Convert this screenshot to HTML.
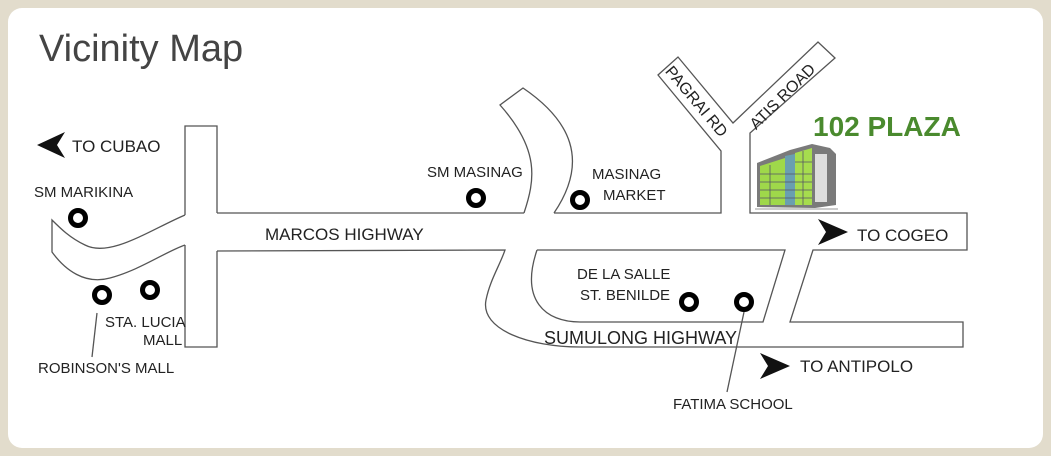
<!DOCTYPE html>
<html><head><meta charset="utf-8"><style>
html,body{margin:0;padding:0;background:#e2dccc;width:1051px;height:456px;overflow:hidden}
.card{position:absolute;left:8px;top:8px;width:1035px;height:440px;background:#fff;border-radius:14px}
svg{position:absolute;left:0;top:0}
text{font-family:"Liberation Sans",sans-serif;fill:#222}
</style></head><body>
<div class="card"></div>
<svg width="1051" height="456" viewBox="0 0 1051 456">
<text x="39" y="61" style="font-size:38px;fill:#444">Vicinity Map</text>
<g fill="none" stroke="#555" stroke-width="1.3">
<path d="M185 215 L185 126 L217 126 L217 213"/>
<path d="M185 245 L185 347 L217 347 L217 251"/>
<path d="M185 215 C150 230 110 258 85 245 C70 238 60 228 52 220 L52 252 C65 270 85 285 110 278 C140 270 165 252 185 245"/>
<path d="M217 213 L524 213"/>
<path d="M554 213 L721 213 L721 151 L658 75 L678 57 L733 123 L818 42 L835 58 L750 133 L750 213 L967 213 L967 250 L813 250 L790 322 L963 322 L963 347 L580 347 C530 347 480 330 486 300 C490 280 500 265 505 250 L217 251"/>
<path d="M524 213 C535 180 540 150 500 105 L523 88 C570 120 590 160 554 213"/>
<path d="M537 250 L785 250 L763 322 L580 322 C545 322 520 300 537 250"/>
<path d="M97 313 L92 357"/>
<path d="M744 312 L727 392"/>
</g>
<g fill="none" stroke="#000" stroke-width="5">
<circle cx="78" cy="218" r="7.5"/><circle cx="476" cy="198" r="7.5"/><circle cx="580" cy="200" r="7.5"/>
<circle cx="102" cy="295" r="7.5"/><circle cx="150" cy="290" r="7.5"/>
<circle cx="689" cy="302" r="7.5"/><circle cx="744" cy="302" r="7.5"/>
</g>
<path d="M37 145 L65 132 L57 145 L65 158 Z" fill="#111"/>
<path d="M848 232 L818 219 L826 232 L818 245 Z" fill="#111"/>
<path d="M790 366 L760 353 L768 366 L760 379 Z" fill="#111"/>
<g style="font-size:17px">
<text x="72" y="152">TO CUBAO</text>
<text x="265" y="240">MARCOS HIGHWAY</text>
<text x="857" y="241">TO COGEO</text>
<text x="800" y="372">TO ANTIPOLO</text>
<text x="544" y="344" style="font-size:18px">SUMULONG HIGHWAY</text>
</g>
<g style="font-size:15px">
<text x="34" y="197">SM MARIKINA</text>
<text x="427" y="177">SM MASINAG</text>
<text x="592" y="179">MASINAG</text>
<text x="603" y="200">MARKET</text>
<text x="105" y="327">STA. LUCIA</text>
<text x="143" y="345">MALL</text>
<text x="38" y="373">ROBINSON'S MALL</text>
<text x="577" y="279">DE LA SALLE</text>
<text x="580" y="300">ST. BENILDE</text>
<text x="673" y="409">FATIMA SCHOOL</text>
<text transform="translate(697,101) rotate(50)" text-anchor="middle" y="6" style="font-size:16px">PAGRAI RD</text>
<text transform="translate(782,96) rotate(-45)" text-anchor="middle" y="6" style="font-size:16px">ATIS ROAD</text>
</g>
<text x="813" y="136" style="font-size:28px;font-weight:bold;fill:#4a8a2e">102 PLAZA</text>
<g>
<polygon points="757,207 757,163 790,150 812,144 830,148 836,154 836,205 815,208" fill="#7a7a7a"/>
<polygon points="760,205 760,166 785,158 785,205" fill="#9fd84a"/>
<polygon points="785,205 785,156 795,154 795,205" fill="#6a9fb0"/>
<polygon points="795,205 795,153 812,148 812,205" fill="#a6dc4e"/>
<rect x="815" y="154" width="12" height="48" fill="#ddd"/>
<g stroke="#556" stroke-width="0.8">
<line x1="760" y1="174" x2="812" y2="174"/><line x1="760" y1="182" x2="812" y2="182"/>
<line x1="760" y1="190" x2="812" y2="190"/><line x1="760" y1="198" x2="812" y2="198"/>
<line x1="795" y1="162" x2="812" y2="162"/><line x1="770" y1="165" x2="770" y2="205"/>
<line x1="803" y1="151" x2="803" y2="205"/>
</g>
<line x1="755" y1="209" x2="838" y2="209" stroke="#999" stroke-width="1"/>
</g>
</svg>
</body></html>
